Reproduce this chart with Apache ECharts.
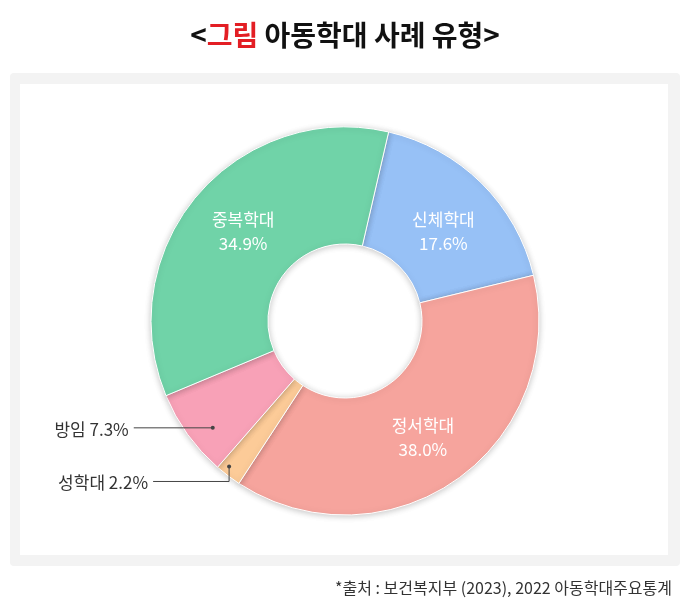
<!DOCTYPE html>
<html><head><meta charset="utf-8">
<script src="https://cdn.jsdelivr.net/npm/echarts@6/dist/echarts.min.js"></script>
<style>html,body{margin:0;padding:0;background:#fff}#c{width:690px;height:616px}</style>
</head><body><div id="c"></div>
<script>
const categories = ['신체학대', '정서학대', '성학대', '방임', '중복학대'];
const values = [17.6, 38.0, 2.2, 7.3, 34.9];
const outsideLabels = ['성학대', '방임'];
const titleParts = ['<', '그림', ' 아동학대 사례 유형>'];
const sourceNote = '*출처 : 보건복지부 (2023), 2022 아동학대주요통계';

const colors = ['#97c1f6', '#f6a49d', '#fccb98', '#f8a1b7', '#70d3a8'];
const FONT = '"Noto Sans CJK KR", "Noto Sans", sans-serif';
const CX = 345, CY = 321, R0 = 77, R1 = 194;
const START = 77;
const insideShift = { '신체학대': [1, 9], '중복학대': [4, 0], '정서학대': [-2, 3] };

const total = values.reduce((a, b) => a + b, 0);
const sliceStart = [], sliceSpan = [];
(function () {
  let acc = 90 - START;
  values.forEach(v => {
    const span = v / total * 360;
    sliceStart.push(acc); sliceSpan.push(span);
    acc += span;
  });
})();
function ptAt(i, r, frac) {
  const a = (sliceStart[i] + sliceSpan[i] * frac) * Math.PI / 180;
  return [CX + r * Math.sin(a), CY - r * Math.cos(a)];
}
const dotR = { '방임': [170, 0.38], '성학대': [186, 0.68] };

function leader(i) {
  const name = categories[i];
  const d = ptAt(i, dotR[name][0], dotR[name][1]);
  if (name === '방임') {
    return { d: d, pts: [d, [d[0] - 79, d[1]]], lx: d[0] - 84, ly: d[1] + 2 };
  }
  return { d: d, pts: [d, [d[0], d[1] + 15], [d[0] - 76, d[1] + 15]], lx: d[0] - 81, ly: d[1] + 16 };
}

const data = categories.map((name, i) => {
  const item = { name: name, value: values[i], itemStyle: { color: colors[i] } };
  if (outsideLabels.indexOf(name) >= 0) {
    item.label = {
      position: 'outside', color: '#333', fontSize: 17, fontFamily: FONT,
      formatter: p => p.name + ' ' + p.value.toFixed(1) + '%'
    };
  }
  return item;
});

const graphics = [
  { type: 'rect', shape: { x: 10, y: 73, width: 670, height: 493, r: 4 }, style: { fill: '#f3f3f3' }, z: -10 },
  { type: 'rect', shape: { x: 20, y: 84, width: 648, height: 471 }, style: { fill: '#ffffff' }, z: -9 },
  { type: 'text', left: 'center', top: 21, z: 10,
    style: { rich: {
      a: { fontSize: 28, fontWeight: 'bold', fill: '#111', fontFamily: FONT },
      r: { fontSize: 28, fontWeight: 'bold', fill: '#e31e24', fontFamily: FONT }
    }, text: '{a|' + titleParts[0] + '}{r|' + titleParts[1] + '}{a|' + titleParts[2] + '}' } },
  { type: 'text', right: 18, top: 580, z: 10,
    style: { text: sourceNote, fontSize: 16, fill: '#333', fontFamily: FONT } }
];
categories.forEach((name, i) => {
  if (outsideLabels.indexOf(name) >= 0) {
    const L = leader(i);
    graphics.push({ type: 'polyline', shape: { points: L.pts }, style: { stroke: '#444', lineWidth: 1, fill: null }, z: 20 });
    graphics.push({ type: 'circle', shape: { cx: L.d[0], cy: L.d[1], r: 2 }, style: { fill: '#444' }, z: 20 });
  }
});

const chart = echarts.init(document.getElementById('c'), null, { renderer: 'canvas' });
chart.setOption({
  animation: false,
  graphic: graphics,
  series: [{
    type: 'pie',
    center: [CX, CY],
    radius: [R0, R1],
    startAngle: START,
    clockwise: true,
    data: data,
    itemStyle: { borderColor: '#fff', borderWidth: 1, shadowBlur: 6, shadowColor: 'rgba(0,0,0,0.22)', shadowOffsetY: 1 },
    label: {
      position: 'inside', color: '#fff', fontSize: 17, lineHeight: 24, fontFamily: FONT,
      formatter: p => p.name + '\n' + p.value.toFixed(1) + '%'
    },
    labelLine: { show: false },
    labelLayout: function (params) {
      const name = categories[params.dataIndex];
      if (outsideLabels.indexOf(name) < 0) {
        const s = insideShift[name] || [0, 0];
        return { dx: s[0], dy: s[1] };
      }
      const L = leader(params.dataIndex);
      return { x: L.lx, y: L.ly, align: 'right', verticalAlign: 'middle' };
    }
  }]
});
</script></body></html>
